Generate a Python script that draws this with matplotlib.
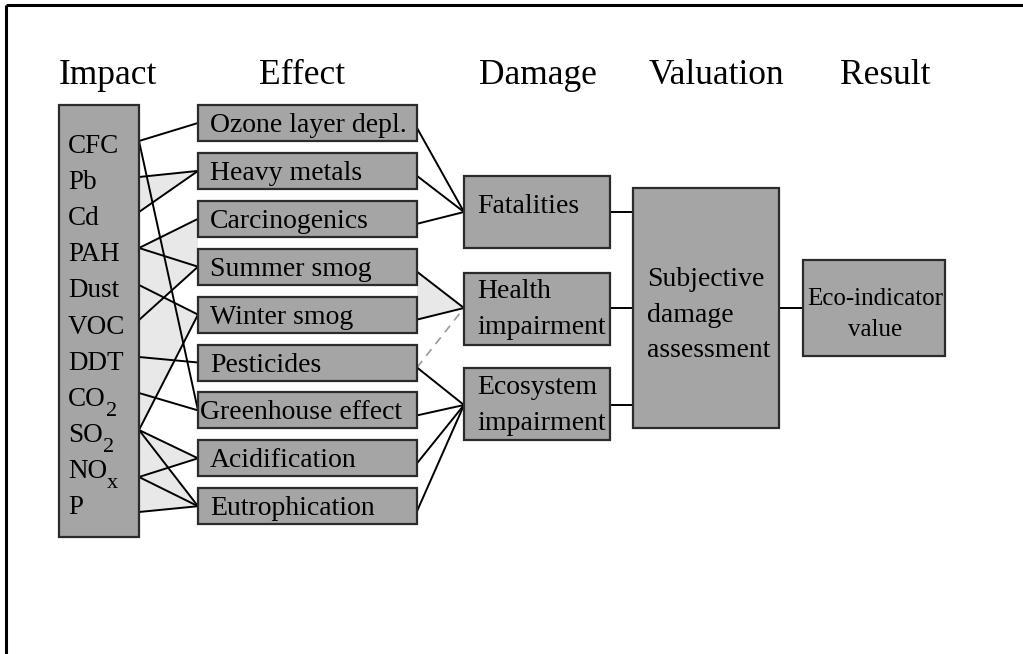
import matplotlib
matplotlib.use("Agg")
import matplotlib.pyplot as plt
from matplotlib.patches import Rectangle, Polygon

plt.rcParams['font.family'] = ['Liberation Serif', 'DejaVu Serif']

# datos del diagrama
headers = ["Impact", "Effect", "Damage", "Valuation", "Result"]
impacts = ["CFC", "Pb", "Cd", "PAH", "Dust", "VOC", "DDT",
           "CO_2", "SO_2", "NO_x", "P"]
effects = ["Ozone layer depl.", "Heavy metals", "Carcinogenics", "Summer smog",
           "Winter smog", "Pesticides", "Greenhouse effect", "Acidification",
           "Eutrophication"]
damages = ["Fatalities", "Health\nimpairment", "Ecosystem\nimpairment"]
valuation = "Subjective\ndamage\nassessment"
result = "Eco-indicator\nvalue"

# conexiones (impacto -> efecto), (efecto -> dano)
impact_links = [(0, 0), (0, 6), (1, 1), (2, 1), (3, 2), (3, 3), (4, 4), (5, 3),
                (6, 5), (7, 6), (8, 4), (8, 7), (8, 8), (9, 7), (9, 8), (10, 8)]
effect_links = [(0, 0), (1, 0), (2, 0), (3, 1), (4, 1), (5, 2), (6, 2), (7, 2), (8, 2)]
dashed_links = [(5, 1)]
shaded_effects = [1, 3, 4, 7, 8]

# layout (pixeles)
W, H = 1023, 654
box_fc = '#a5a5a5'
box_ec = '#2b2b2b'
fs = 20

fig = plt.figure(figsize=(W / 100, H / 100), dpi=100)
ax = fig.add_axes([0, 0, 1, 1])
ax.set_xlim(0, W)
ax.set_ylim(H, 0)
ax.axis('off')

# marco
ax.plot([6, W], [5, 5], color='black', lw=2.2, solid_capstyle='butt')
ax.plot([6, 6], [5, H], color='black', lw=2.2, solid_capstyle='butt')

# encabezados
head_x = [108, 302, 538, 716, 885]
for hx, t in zip(head_x, headers):
    ax.text(hx, 84, t, fontsize=25.5, ha='center', va='baseline')

def box(x0, y0, x1, y1):
    ax.add_patch(Rectangle((x0, y0), x1 - x0, y1 - y0, fc=box_fc, ec=box_ec, lw=1.6, zorder=3))

# columna de impactos
imp_x0, imp_x1 = 59, 139
box(imp_x0, 105, imp_x1, 537)
imp_label_y = [144 + 36.1 * i for i in range(len(impacts))]
imp_anchor = [141, 177, 212, 248, 285, 320, 357, 393, 430, 477, 512]
for y, t in zip(imp_label_y, impacts):
    name, _, sub = t.partition("_")
    txt = ax.text(68, y + 9, name, fontsize=19.5, ha='left', va='baseline', zorder=4)
    if sub:
        ax.annotate(sub, xy=(1, 0), xycoords=txt, xytext=(0, 7),
                    textcoords='offset points', fontsize=16, ha='left', va='top', zorder=4)

# efectos
ef_x0, ef_x1 = 198, 417
ef_top = [105 + 47.9 * i for i in range(len(effects))]
ef_h = 36
ef_c = [t + ef_h / 2 for t in ef_top]
for i, t in enumerate(effects):
    box(ef_x0, ef_top[i], ef_x1, ef_top[i] + ef_h)
    tx = 200 if t.startswith("Greenhouse") else 210
    ax.text(tx, ef_c[i] + 9, t, fontsize=fs, ha='left', va='baseline', zorder=4)

# danos
dm_x0, dm_x1 = 464, 610
dm_top = [176, 273, 368]
dm_h = 72
dm_c = [212, 308, 405]
dm_text_y = [[204], [289, 325], [385, 421]]
for i, t in enumerate(damages):
    box(dm_x0, dm_top[i], dm_x1, dm_top[i] + dm_h)
    for ty, line in zip(dm_text_y[i], t.split("\n")):
        ax.text(477, ty + 9, line, fontsize=fs, ha='left', va='baseline', zorder=4)

# valoracion
box(633, 188, 779, 428)
for ty, line in zip([277, 313, 348], valuation.split("\n")):
    ax.text(647, ty + 9, line, fontsize=fs, ha='left', va='baseline', zorder=4)

# resultado
box(803, 260, 945, 356)
for ty, line in zip([297, 328], result.split("\n")):
    ax.text(875, ty + 8, line, fontsize=18, ha='center', va='baseline', zorder=4)

# sombreado gris claro
for e in shaded_effects:
    src = [a for a, b in impact_links if b == e]
    pts = [(imp_x1, imp_anchor[a]) for a in src] + [(ef_x0, ef_c[e])]
    ax.add_patch(Polygon(pts, closed=True, fc='#e8e8e8', ec='none', zorder=1))
ax.add_patch(Polygon([(imp_x1, imp_anchor[3])] + [(ef_x0, ef_c[b]) for a, b in impact_links if a == 3],
                     closed=True, fc='#e8e8e8', ec='none', zorder=1))
hs = [a for a, b in effect_links if b == 1]
ax.add_patch(Polygon([(ef_x1, ef_c[a] + 5) for a in hs] + [(dm_x0, dm_c[1])],
                     closed=True, fc='#e8e8e8', ec='none', zorder=1))

# lineas
for a, b in impact_links:
    ax.plot([imp_x1, ef_x0], [imp_anchor[a], ef_c[b]], color='black', lw=1.4, zorder=2)
for a, b in effect_links:
    ax.plot([ef_x1, dm_x0], [ef_c[a] + 5, dm_c[b]], color='black', lw=1.4, zorder=2)
for a, b in dashed_links:
    ax.plot([ef_x1, dm_x0], [ef_c[a] + 5, dm_c[b]], color='#999999', lw=1.2,
            ls=(0, (5, 4)), zorder=2)
for c in dm_c:
    ax.plot([dm_x1, 633], [c, c], color='black', lw=1.4, zorder=2)
ax.plot([779, 803], [308, 308], color='black', lw=1.4, zorder=2)

fig.savefig("out.png", dpi=100)
